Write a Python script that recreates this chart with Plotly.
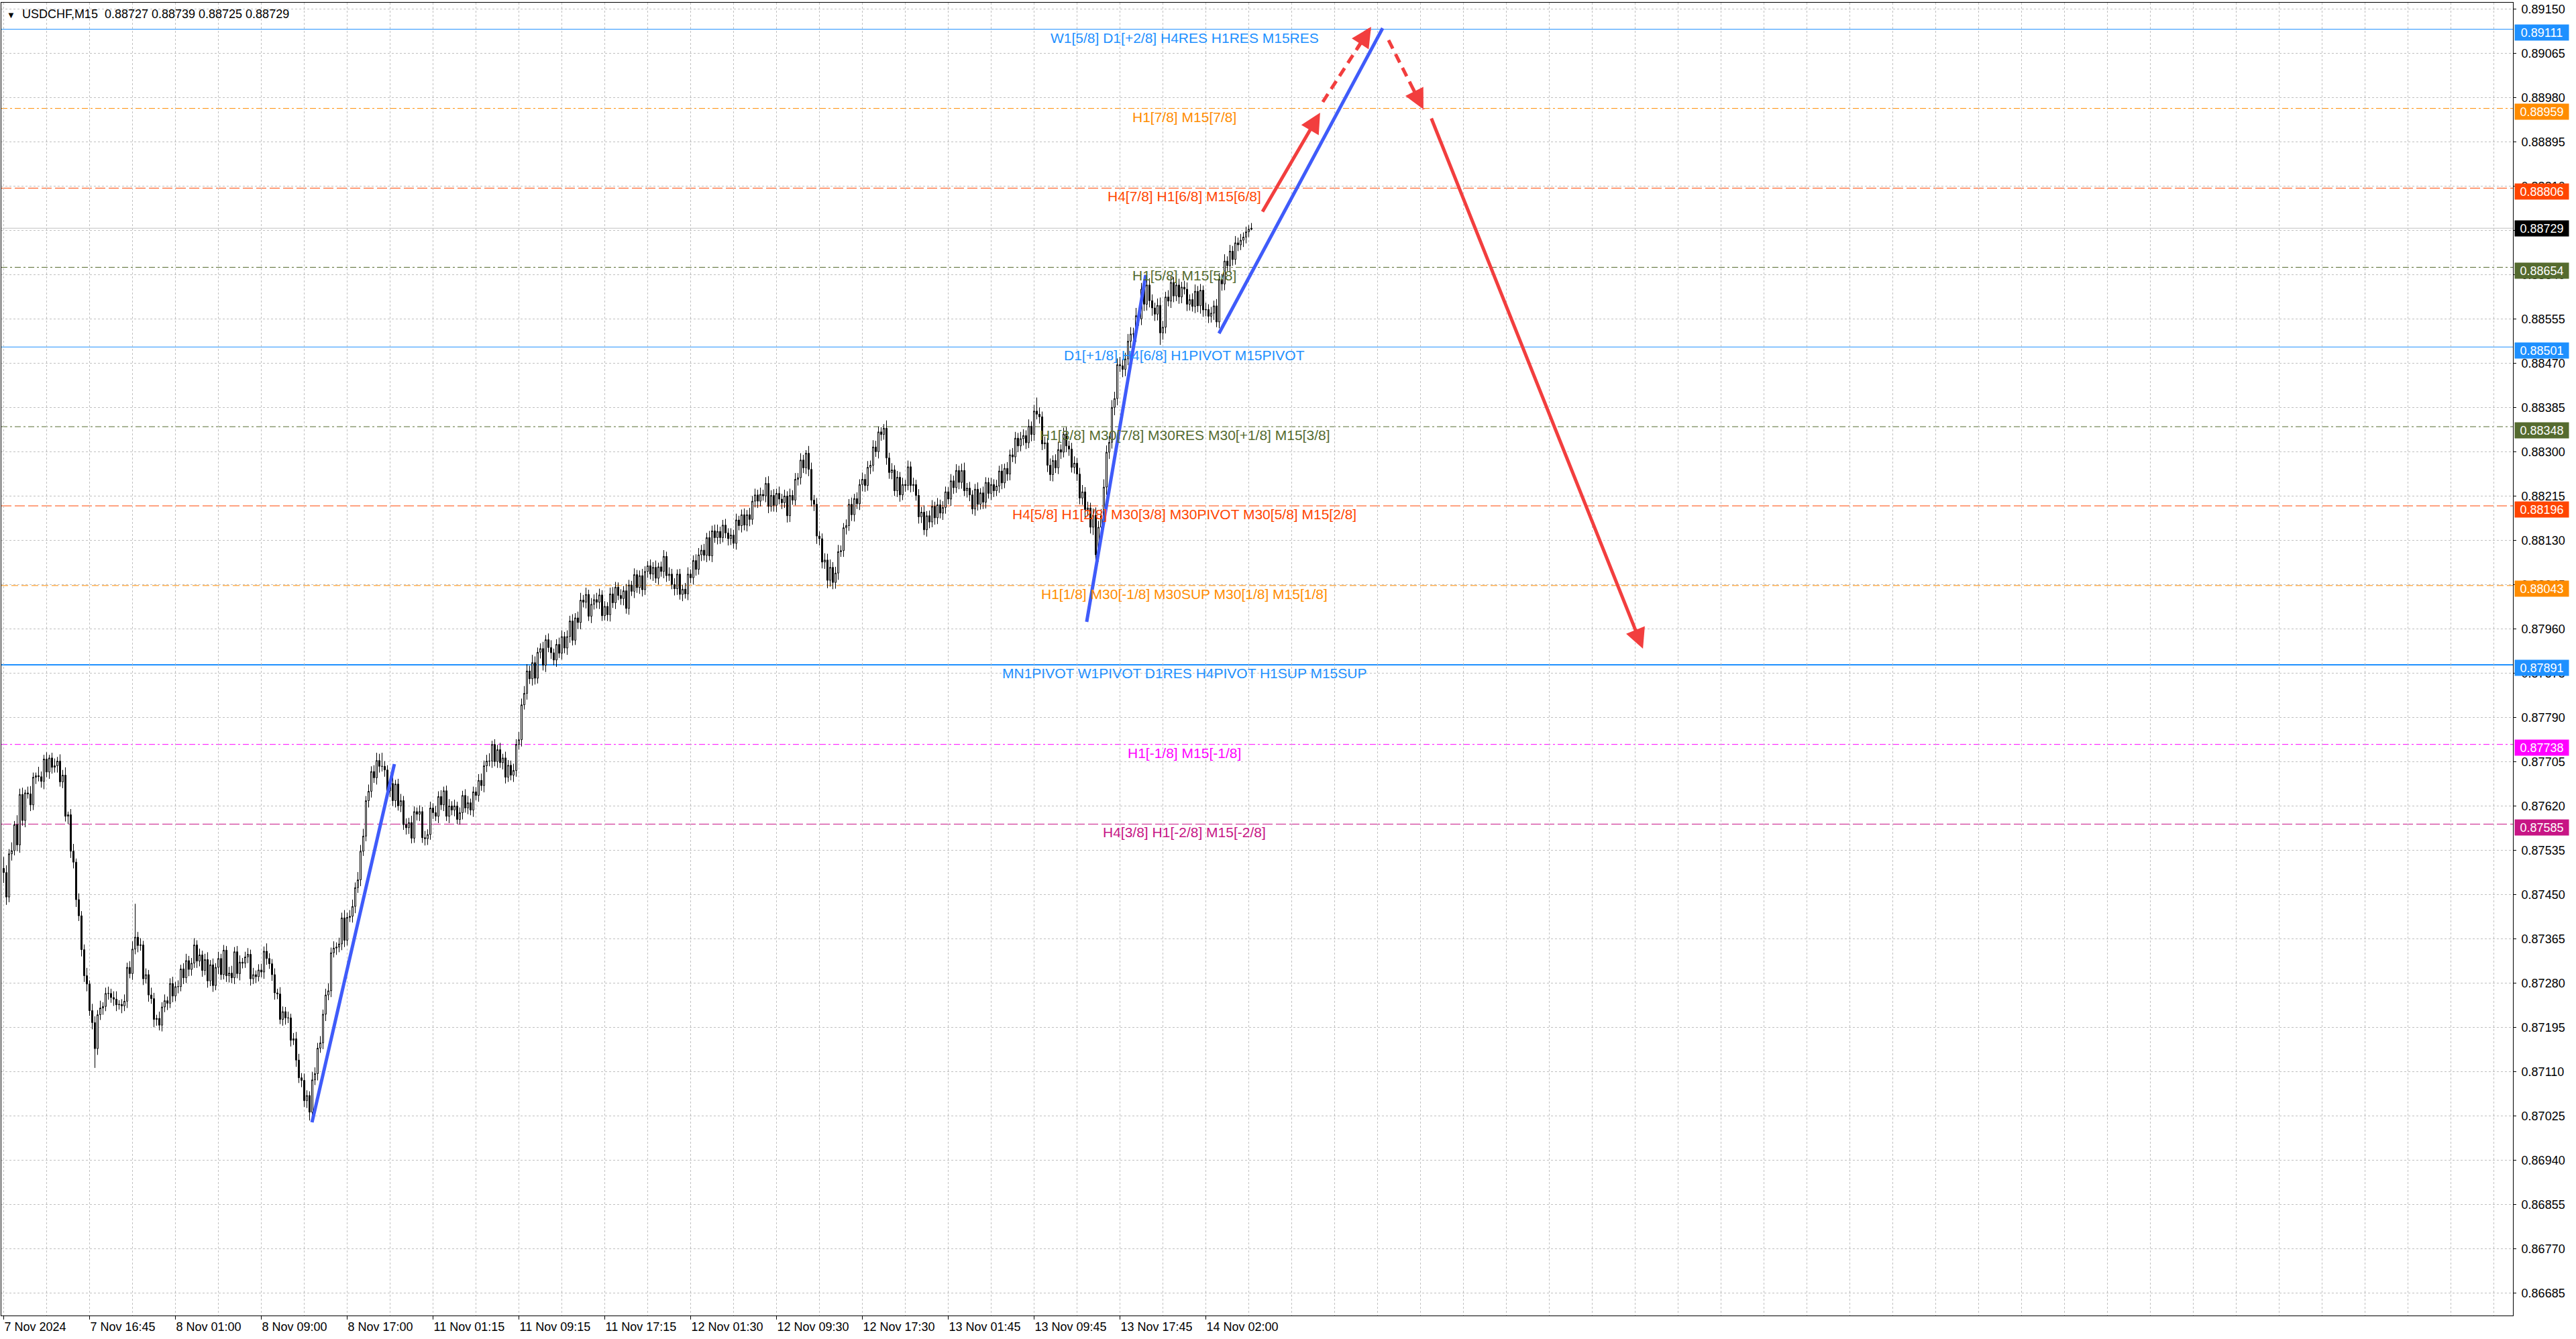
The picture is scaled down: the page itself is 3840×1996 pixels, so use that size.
import plotly.graph_objects as go

# ---------------- data ----------------
title_text = "USDCHF,M15\u00a0\u00a00.88727 0.88739 0.88725 0.88729"

first_open_pts = 87500
close_pts = [
    87492, 87445, 87528, 87534, 87584, 87545, 87642, 87592, 87645, 87643,
    87622, 87675, 87678, 87676, 87667, 87710, 87685, 87712, 87694, 87697,
    87706, 87666, 87679, 87600, 87603, 87533, 87512, 87440, 87409, 87344,
    87294, 87278, 87227, 87204, 87154, 87219, 87232, 87235, 87260, 87260,
    87252, 87249, 87238, 87239, 87236, 87245, 87310, 87298, 87345, 87368,
    87352, 87353, 87288, 87296, 87257, 87250, 87210, 87212, 87199, 87234,
    87246, 87241, 87279, 87255, 87273, 87273, 87307, 87290, 87323, 87306,
    87318, 87353, 87322, 87334, 87304, 87325, 87284, 87315, 87275, 87310,
    87327, 87296, 87343, 87294, 87299, 87290, 87340, 87298, 87320, 87318,
    87330, 87335, 87288, 87296, 87292, 87305, 87301, 87341, 87327, 87317,
    87296, 87261, 87259, 87210, 87225, 87213, 87213, 87170, 87173, 87132,
    87098, 87093, 87054, 87064, 87032, 87094, 87106, 87155, 87165, 87220,
    87257, 87265, 87338, 87347, 87349, 87355, 87405, 87362, 87406, 87408,
    87427, 87463, 87478, 87533, 87562, 87630, 87648, 87686, 87674, 87707,
    87696, 87696, 87689, 87649, 87663, 87630, 87662, 87620, 87630, 87584,
    87578, 87588, 87558, 87609, 87604, 87609, 87559, 87557, 87565, 87616,
    87607, 87600, 87638, 87622, 87649, 87600, 87620, 87612, 87620, 87594,
    87607, 87640, 87616, 87626, 87612, 87647, 87640, 87669, 87659, 87697,
    87706, 87706, 87738, 87705, 87728, 87703, 87712, 87675, 87698, 87679,
    87688, 87738, 87747, 87814, 87836, 87879, 87864, 87895, 87865, 87915,
    87922, 87890, 87939, 87924, 87914, 87900, 87930, 87913, 87945, 87923,
    87945, 87975, 87938, 87981, 87972, 88015, 88011, 88026, 87984, 88007,
    88016, 88011, 88025, 87985, 88003, 87987, 88027, 88010, 88040, 88024,
    88018, 88033, 87999, 88044, 88032, 88064, 88039, 88062, 88035, 88070,
    88081, 88065, 88078, 88057, 88079, 88070, 88099, 88062, 88065, 88045,
    88037, 88065, 88026, 88036, 88027, 88065, 88058, 88091, 88074, 88102,
    88111, 88101, 88135, 88100, 88148, 88135, 88147, 88135, 88159, 88144,
    88133, 88140, 88124, 88169, 88158, 88179, 88159, 88179, 88170, 88205,
    88217, 88205, 88218, 88215, 88239, 88195, 88216, 88197, 88220, 88209,
    88202, 88215, 88177, 88216, 88207, 88247, 88250, 88284, 88269, 88297,
    88266, 88207, 88199, 88138, 88133, 88088, 88092, 88053, 88078, 88049,
    88067, 88108, 88110, 88154, 88158, 88199, 88179, 88210, 88200, 88237,
    88247, 88235, 88270, 88274, 88309, 88300, 88338, 88333, 88345, 88288,
    88260, 88265, 88225, 88251, 88217, 88237, 88235, 88271, 88235, 88237,
    88216, 88175, 88184, 88150, 88177, 88165, 88195, 88173, 88198, 88182,
    88193, 88223, 88209, 88244, 88231, 88264, 88241, 88264, 88225, 88230,
    88217, 88190, 88228, 88199, 88221, 88203, 88241, 88220, 88237, 88225,
    88234, 88263, 88240, 88268, 88257, 88294, 88290, 88326, 88311, 88325,
    88331, 88317, 88349, 88333, 88378, 88372, 88367, 88315, 88317, 88274,
    88256, 88283, 88269, 88304, 88299, 88334, 88311, 88305, 88270, 88278,
    88257, 88211, 88223, 88189, 88192, 88155, 88178, 88102, 88155, 88177,
    88232, 88299, 88318, 88385, 88402, 88467, 88465, 88458, 88478, 88512,
    88526, 88526, 88561, 88555, 88612, 88583, 88620, 88590, 88576, 88564,
    88581, 88528, 88539, 88597, 88589, 88625, 88599, 88620, 88597, 88616,
    88612, 88583, 88592, 88579, 88608, 88580, 88610, 88572, 88573, 88560,
    88566, 88580, 88549, 88631, 88622, 88666, 88657, 88685, 88669, 88701,
    88697, 88706, 88712, 88722, 88727, 88729,
]
hi_wick = [
    22, 14, 9, 16, 7, 18, 11, 13, 6, 12,
    15, 9, 6, 17, 10, 8, 13, 6, 10, 14,
    8, 13, 10, 15, 6, 11, 14, 7, 12, 9,
    10, 15, 7, 13, 12, 9, 14, 8, 11, 13,
    9, 12, 15, 8, 10, 13, 9, 12, 15, 64,
    10, 13, 8, 12, 9, 14, 11, 7, 13, 9,
    12, 8, 10, 13, 9, 12, 8, 11, 13, 9,
    10, 13, 9, 12, 8, 11, 14, 9, 12, 8,
    13, 9, 10, 8, 12, 14, 9, 11, 13, 8,
    10, 12, 9, 13, 8, 11, 12, 9, 15, 10,
    9, 12, 8, 13, 10, 9, 12, 8, 11, 13,
    12, 9, 13, 10, 8, 15, 12, 10, 13, 9,
    12, 14, 10, 13, 9, 12, 10, 15, 9, 12,
    13, 10, 15, 12, 14, 9, 13, 10, 12, 15,
    13, 26, 10, 9, 13, 12, 8, 10, 13, 9,
    12, 9, 13, 10, 8, 12, 9, 13, 10, 12,
    9, 13, 10, 12, 8, 10, 13, 9, 12, 8,
    10, 9, 12, 13, 8, 10, 9, 12, 13, 10,
    12, 15, 7, 10, 9, 13, 8, 12, 10, 9,
    13, 10, 15, 12, 14, 13, 10, 15, 12, 9,
    10, 13, 9, 12, 14, 8, 10, 13, 12, 9,
    12, 10, 13, 9, 12, 14, 10, 13, 9, 12,
    10, 13, 12, 9, 10, 8, 12, 13, 10, 9,
    12, 9, 13, 10, 8, 12, 9, 10, 13, 10,
    9, 12, 10, 13, 8, 10, 12, 9, 13, 10,
    12, 9, 10, 8, 12, 13, 9, 10, 12, 13,
    10, 12, 9, 13, 10, 12, 13, 9, 10, 12,
    9, 13, 10, 12, 8, 10, 12, 9, 13, 10,
    12, 10, 13, 9, 12, 14, 10, 12, 9, 13,
    10, 12, 9, 13, 10, 12, 9, 13, 10, 6,
    14, 13, 10, 12, 9, 10, 13, 12, 15, 10,
    12, 13, 10, 9, 12, 10, 13, 9, 12, 10,
    13, 10, 12, 9, 13, 12, 10, 9, 8, 15,
    10, 13, 9, 12, 10, 13, 9, 12, 10, 13,
    9, 12, 10, 13, 9, 10, 12, 9, 13, 10,
    12, 10, 9, 13, 10, 12, 9, 13, 15, 10,
    12, 9, 10, 13, 9, 12, 10, 9, 13, 10,
    12, 10, 13, 9, 12, 10, 13, 12, 10, 13,
    12, 10, 13, 9, 12, 26, 13, 10, 12, 9,
    13, 10, 12, 15, 10, 12, 13, 10, 12, 13,
    10, 12, 13, 9, 12, 10, 13, 15, 12, 13,
    15, 13, 12, 14, 13, 12, 15, 13, 12, 14,
    13, 12, 15, 13, 12, 14, 17, 13, 12, 10,
    13, 15, 12, 10, 13, 12, 10, 13, 12, 10,
    12, 13, 10, 12, 13, 10, 12, 9, 13, 10,
    12, 10, 13, 12, 10, 13, 9, 12, 10, 13,
    10, 12, 9, 10, 8, 10,
]
lo_wick = [
    20, 15, 10, 13, 9, 12, 15, 10, 13, 9,
    12, 10, 13, 9, 12, 15, 10, 13, 12, 10,
    13, 9, 12, 10, 15, 13, 12, 14, 10, 13,
    12, 14, 10, 13, 37, 12, 10, 13, 9, 12,
    10, 13, 12, 9, 14, 10, 13, 9, 12, 10,
    13, 10, 12, 9, 13, 10, 15, 12, 10, 12,
    10, 13, 9, 12, 10, 13, 9, 12, 10, 13,
    12, 9, 13, 10, 12, 9, 13, 10, 12, 9,
    13, 10, 9, 12, 13, 10, 12, 9, 13, 10,
    9, 12, 13, 10, 12, 9, 10, 13, 12, 10,
    12, 13, 10, 9, 12, 13, 10, 12, 9, 13,
    10, 13, 12, 14, 16, 12, 10, 13, 9, 12,
    13, 10, 12, 9, 13, 10, 12, 13, 10, 9,
    12, 13, 10, 12, 9, 10, 13, 12, 10, 13,
    12, 10, 13, 9, 12, 10, 13, 9, 12, 10,
    13, 12, 10, 9, 12, 13, 10, 13, 12, 10,
    12, 9, 13, 10, 12, 9, 13, 10, 12, 9,
    10, 13, 9, 12, 10, 13, 9, 12, 10, 13,
    12, 10, 13, 9, 12, 10, 13, 12, 9, 10,
    13, 12, 10, 13, 9, 12, 10, 13, 12, 10,
    12, 10, 13, 9, 12, 10, 13, 9, 12, 10,
    13, 12, 10, 9, 12, 13, 10, 12, 9, 13,
    10, 12, 13, 10, 9, 12, 13, 10, 12, 9,
    12, 13, 10, 12, 9, 13, 10, 12, 13, 10,
    12, 10, 13, 9, 12, 10, 13, 12, 10, 9,
    13, 12, 10, 13, 9, 12, 10, 13, 12, 10,
    12, 10, 13, 9, 12, 10, 13, 12, 9, 10,
    13, 12, 10, 12, 9, 13, 10, 12, 13, 10,
    12, 13, 10, 9, 12, 13, 10, 12, 13, 10,
    12, 10, 13, 12, 9, 10, 12, 13, 10, 12,
    13, 12, 13, 15, 13, 12, 13, 15, 12, 13,
    12, 13, 10, 12, 13, 10, 12, 13, 10, 12,
    13, 12, 10, 13, 12, 10, 13, 12, 10, 13,
    12, 13, 10, 12, 13, 10, 12, 9, 13, 12,
    10, 13, 12, 10, 13, 12, 10, 13, 12, 10,
    13, 12, 10, 13, 12, 10, 13, 12, 10, 13,
    12, 10, 13, 12, 10, 13, 12, 10, 13, 12,
    10, 13, 12, 10, 13, 12, 10, 13, 12, 10,
    13, 12, 10, 13, 12, 10, 13, 12, 10, 13,
    12, 13, 10, 12, 13, 10, 12, 13, 10, 12,
    13, 12, 13, 15, 13, 12, 15, 23, 13, 15,
    13, 15, 13, 12, 15, 13, 12, 15, 13, 12,
    13, 12, 15, 13, 12, 13, 12, 13, 15, 13,
    12, 23, 13, 12, 10, 13, 12, 10, 13, 12,
    10, 13, 12, 10, 13, 12, 15, 13, 12, 13,
    12, 13, 10, 12, 13, 12, 10, 13, 12, 10,
    12, 10, 13, 12, 10, 2,
]

x_tick_labels = [
    "7 Nov 2024", "7 Nov 16:45", "8 Nov 01:00", "8 Nov 09:00", "8 Nov 17:00",
    "11 Nov 01:15", "11 Nov 09:15", "11 Nov 17:15", "12 Nov 01:30", "12 Nov 09:30",
    "12 Nov 17:30", "13 Nov 01:45", "13 Nov 09:45", "13 Nov 17:45", "14 Nov 02:00",
]
y_tick_labels = [
    "0.89150", "0.89065", "0.88980", "0.88895", "0.88810", "0.88725", "0.88640",
    "0.88555", "0.88470", "0.88385", "0.88300", "0.88215", "0.88130", "0.88045",
    "0.87960", "0.87875", "0.87790", "0.87705", "0.87620", "0.87535", "0.87450",
    "0.87365", "0.87280", "0.87195", "0.87110", "0.87025", "0.86940", "0.86855",
    "0.86770", "0.86685",
]

level_prices = [0.89111, 0.88959, 0.88806, 0.88654, 0.88501, 0.88348,
                0.88196, 0.88043, 0.87891, 0.87738, 0.87585]
level_texts = [
    "W1[5/8] D1[+2/8] H4RES H1RES M15RES",
    "H1[7/8] M15[7/8]",
    "H4[7/8] H1[6/8] M15[6/8]",
    "H1[5/8] M15[5/8]",
    "D1[+1/8] H4[6/8] H1PIVOT M15PIVOT",
    "H1[3/8] M30[7/8] M30RES M30[+1/8] M15[3/8]",
    "H4[5/8] H1[2/8] M30[3/8] M30PIVOT M30[5/8] M15[2/8]",
    "H1[1/8] M30[-1/8] M30SUP M30[1/8] M15[1/8]",
    "MN1PIVOT W1PIVOT D1RES H4PIVOT H1SUP M15SUP",
    "H1[-1/8] M15[-1/8]",
    "H4[3/8] H1[-2/8] M15[-2/8]",
]
current_price = 0.88729

# hand-drawn trend lines (bar index, price)
trend_x = [[114.9, 145.6], [403.6, 425.6], [452.9, 513.9]]
trend_y = [[0.870125, 0.877002], [0.879733, 0.886391], [0.885271, 0.891130]]

# projected path legs: (start bar, start price, tip bar, tip price)
leg_x0 = [468.9, 491.6, 516.1, 531.9]
leg_y0 = [0.887589, 0.889714, 0.890899, 0.889418]
leg_x1 = [490.6, 509.6, 529.1, 610.9]
leg_y1 = [0.889508, 0.891156, 0.889572, 0.879217]
leg_dashed = [False, True, True, False]

# ---------------- styles ----------------
level_colors = ["#1E90FF", "#FF8C00", "#FF4500", "#556B2F", "#1E90FF", "#556B2F",
                "#FF4500", "#FF8C00", "#1E90FF", "#FF00FF", "#C71585"]
level_dash = ["solid", "9px,4px,3px,4px", "15px,5px", "9px,4px,3px,4px", "solid",
              "9px,4px,3px,4px", "15px,5px", "10px,5px", "solid", "9px,4px,3px,4px",
              "15px,5px"]
level_width = [1, 1, 1, 1, 1, 1, 1, 1, 2, 1, 1]
FONT = "Liberation Sans, Arial, sans-serif"
BLUE = "#3F5BFA"
RED = "#F23E3E"
GRID = "#C0C0C0"

# ---------------- build candles ----------------
n = min(len(close_pts), len(hi_wick), len(lo_wick))
opens, highs, lows, closes = [], [], [], []
prev = first_open_pts
for i in range(n):
    o = prev
    c = close_pts[i]
    opens.append(o / 1e5)
    closes.append(c / 1e5)
    highs.append((max(o, c) + hi_wick[i]) / 1e5)
    lows.append((min(o, c) - lo_wick[i]) / 1e5)
    prev = c
bars = list(range(n))

fig = go.Figure()
fig.add_trace(go.Candlestick(
    x=bars, open=opens, high=highs, low=lows, close=closes,
    increasing=dict(line=dict(color="black", width=1), fillcolor="white"),
    decreasing=dict(line=dict(color="black", width=1), fillcolor="black"),
    whiskerwidth=0, hoverinfo="skip", showlegend=False,
))

for tx, ty in zip(trend_x, trend_y):
    fig.add_trace(go.Scatter(x=tx, y=ty, mode="lines",
                             line=dict(color=BLUE, width=5),
                             hoverinfo="skip", showlegend=False))

annotations = []
for x0, y0, x1, y1, dashed in zip(leg_x0, leg_y0, leg_x1, leg_y1, leg_dashed):
    if dashed:
        fig.add_trace(go.Scatter(x=[x0, x1], y=[y0, y1], mode="lines",
                                 line=dict(color=RED, width=5, dash="14px,9px"),
                                 hoverinfo="skip", showlegend=False))
        sx = x1 - 0.3 * (x1 - x0)
        sy = y1 - 0.3 * (y1 - y0)
    else:
        sx, sy = x0, y0
    annotations.append(dict(
        x=x1, y=y1, ax=sx, ay=sy, xref="x", yref="y", axref="x", ayref="y",
        text="", showarrow=True, arrowhead=2, arrowsize=1.2, arrowwidth=5,
        arrowcolor=RED,
    ))

shapes = []
for p, col, dsh, w in zip(level_prices, level_colors, level_dash, level_width):
    shapes.append(dict(type="line", xref="paper", x0=0, x1=1, yref="y", y0=p, y1=p,
                       line=dict(color=col, width=w, dash=dsh), layer="below"))
shapes.append(dict(type="line", xref="paper", x0=0, x1=1, yref="y",
                   y0=current_price, y1=current_price,
                   line=dict(color="#C0C0C0", width=1), layer="below"))

label_bar = 440
for p, txt, col in zip(level_prices, level_texts, level_colors):
    annotations.append(dict(
        x=label_bar, y=p, xref="x", yref="y", text=txt, showarrow=False,
        xanchor="center", yanchor="top", yshift=1,
        font=dict(family=FONT, size=21, color=col),
    ))
    annotations.append(dict(
        x=1, y=p, xref="paper", yref="y", text=f"{p:.5f}", showarrow=False,
        xanchor="left", yanchor="middle", xshift=2, yshift=-5,
        bgcolor=col, width=76, height=19, borderpad=2,
        font=dict(family=FONT, size=18, color="white"),
    ))
annotations.append(dict(
    x=1, y=current_price, xref="paper", yref="y", text=f"{current_price:.5f}",
    showarrow=False, xanchor="left", yanchor="middle", xshift=2,
    bgcolor="black", width=76, height=19, borderpad=2,
    font=dict(family=FONT, size=18, color="white"),
))
annotations.append(dict(
    x=0, y=1, xref="paper", yref="paper", xanchor="left", yanchor="top",
    xshift=6, yshift=-5, showarrow=False,
    text="<span style='font-size:13px'>\u25bc</span>\u00a0\u00a0" + title_text,
    font=dict(family=FONT, size=18, color="black"),
))

y_vals = [float(t) for t in y_tick_labels]
x_vals = [32 * k for k in range(len(x_tick_labels))]

fig.update_layout(
    width=3840, height=1996,
    margin=dict(l=2, r=94, t=4, b=35),
    paper_bgcolor="white", plot_bgcolor="white",
    showlegend=False,
    shapes=shapes, annotations=annotations,
    xaxis=dict(
        range=[-0.875, 935.125], tickmode="array", tickvals=x_vals, ticktext=x_tick_labels,
        ticks="outside", ticklen=5, tickcolor="black", ticklabelposition="outside right",
        showgrid=True, gridcolor=GRID, griddash="3px,3px", gridwidth=1,
        minor=dict(tickmode="linear", tick0=0, dtick=16, showgrid=True, gridcolor=GRID,
                   griddash="3px,3px", gridwidth=1, ticks=""),
        showline=True, mirror=True, linecolor="black", linewidth=1,
        zeroline=False, rangeslider=dict(visible=False),
        tickfont=dict(family=FONT, size=18, color="black"),
    ),
    yaxis=dict(
        side="right", range=[0.866416, 0.891620], tickmode="array",
        tickvals=y_vals, ticktext=y_tick_labels,
        ticks="outside", ticklen=4, tickcolor="black",
        showgrid=True, gridcolor=GRID, griddash="3px,3px", gridwidth=1,
        showline=True, mirror=True, linecolor="black", linewidth=1,
        zeroline=False, ticklabelstandoff=4,
        tickfont=dict(family=FONT, size=18, color="black"),
    ),
)

fig.write_html("out.html", config={"displayModeBar": False},
               post_script="document.body.style.margin='0';document.body.style.overflow='hidden';")
